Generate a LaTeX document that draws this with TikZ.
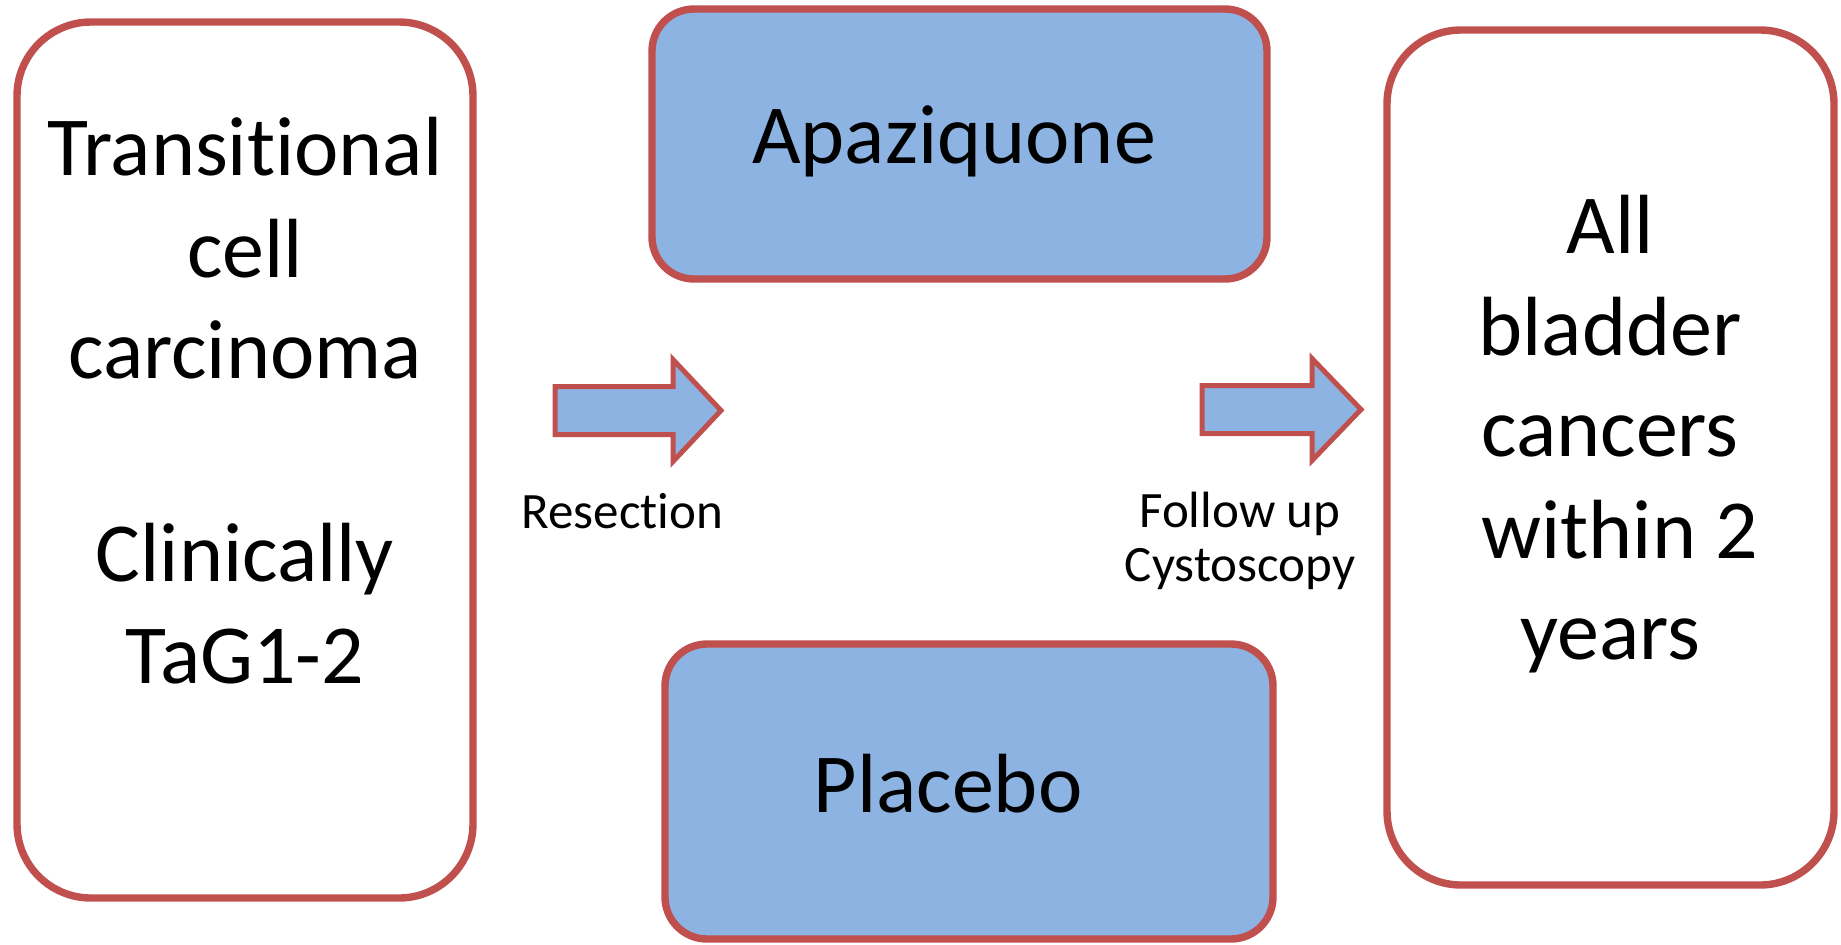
\documentclass[tikz,border=0pt]{standalone}
\usepackage{fontspec}
\setmainfont{Carlito}[RawFeature={-liga;-clig;-calt;-dlig}]
\usetikzlibrary{positioning}

\definecolor{edgered}{HTML}{C0504D}
\definecolor{armblue}{HTML}{8DB3E2}

\tikzset{
  tallbox/.style={draw=edgered, line width=3.7pt, rounded corners=37pt, fill=white},
  armbox/.style={draw=edgered, line width=3.7pt, rounded corners=21pt, fill=armblue},
  blockarrow/.style={draw=edgered, line width=2.5pt, fill=armblue, line join=miter},
  bigtext/.style={font=\fontsize{42pt}{50.75pt}\selectfont, align=center, inner sep=0pt},
  smalltext/.style={font=\fontsize{25.5pt}{27pt}\selectfont, align=center, inner sep=0pt},
}

\begin{document}
\begin{tikzpicture}[x=0.5pt, y=-0.5pt]
  \useasboundingbox (0,0) rectangle (1841,944);

  % boxes
  \node[tallbox, minimum width=228pt, minimum height=438pt] (tumour) at (245,460) {};
  \node[armbox, minimum width=307.5pt, minimum height=135pt] (drug) at (959.5,144) {};
  \node[armbox, minimum width=304pt, minimum height=147.5pt] (placebo) at (969,791.5) {};
  \node[tallbox, minimum width=223.5pt, minimum height=427.5pt] (outcome) at (1610.5,457.5) {};

  % box texts
  \node[bigtext, anchor=north] (tumourtext) at (245,117)
    {Transitional\\cell\\carcinoma\\[50.75pt]Clinically\\TaG1-2};
  \node[bigtext, anchor=base] (drugtext) at (954,163) {Apaziquone};
  \node[bigtext, anchor=base] (placebotext) at (948,812) {Placebo};
  \node[bigtext, anchor=north] (outcometext) at (1610,195)
    {All\\bladder\\cancers\\~within 2\\years};

  % block arrows
  \coordinate (cut) at (555,410.5);
  \coordinate (follow) at (1202,409.5);
  \draw[blockarrow] (cut) ++(0,-24) -- ++(118,0) -- ++(0,-27) -- ++(48,51)
    -- ++(-48,51) -- ++(0,-27) -- ++(-118,0) -- cycle;
  \draw[blockarrow] (follow) ++(0,-24) -- ++(110,0) -- ++(0,-27) -- ++(49,51)
    -- ++(-49,51) -- ++(0,-27) -- ++(-110,0) -- cycle;

  % arrow labels
  \node[smalltext, anchor=base] (cuttext) at (622.5,528) {Resection};
  \node[smalltext, anchor=north] (followtext) at (1240,492) {Follow up\\Cystoscopy};

\end{tikzpicture}
\end{document}
